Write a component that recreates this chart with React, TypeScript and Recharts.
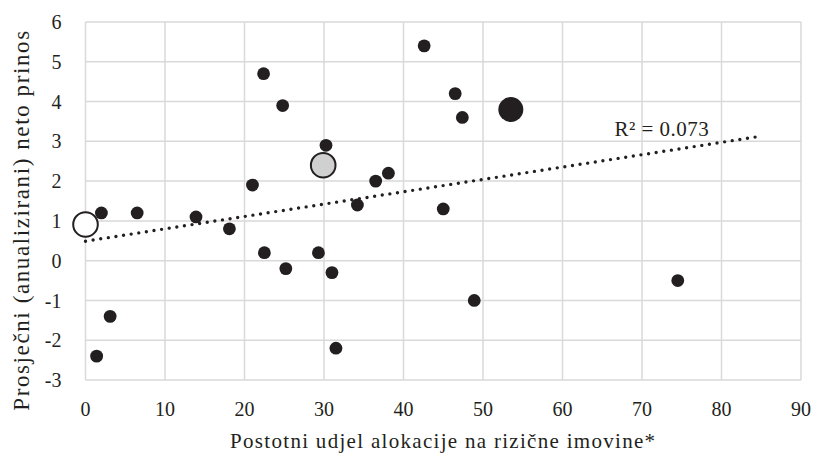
import {
  ScatterChart,
  Scatter,
  XAxis,
  YAxis,
  CartesianGrid,
  ReferenceDot,
  Label,
} from "recharts";

const xTicks = [0, 10, 20, 30, 40, 50, 60, 70, 80, 90];
const yTicks = [-3, -2, -1, 0, 1, 2, 3, 4, 5, 6];

// small black dots (individual funds)
const fundX = [1.4, 3.1, 2.0, 6.5, 13.9, 18.1, 22.5, 25.2, 22.4, 24.8, 21.0, 42.6, 46.5, 47.4, 30.25, 38.1, 36.5, 34.2, 45.0, 29.3, 31.0, 74.5, 48.9, 31.5];
const fundY = [-2.4, -1.4, 1.2, 1.2, 1.1, 0.8, 0.2, -0.2, 4.7, 3.9, 1.9, 5.4, 4.2, 3.6, 2.9, 2.2, 2.0, 1.4, 1.3, 0.2, -0.3, -0.5, -1.0, -2.2];

// highlighted big markers
const blackBigX = [53.5];
const blackBigY = [3.8];
const grayBigX = [29.9];
const grayBigY = [2.4];
const whiteBigX = [0];
const whiteBigY = [0.91];

// linear trend endpoints
const trendX = [0, 85];
const trendY = [0.49, 3.13];

const r2Label = "R² = 0.073";
const xTitle = "Postotni udjel alokacije na rizične imovine*";
const yTitle = "Prosječni (anualizirani) neto prinos";

const zip = (xs: number[], ys: number[]) => xs.map((x, i) => ({ x, y: ys[i] }));

const INK = "#231f20";
const GRID = "#d9d9d9";
const FONT = '"Liberation Serif", "Times New Roman", serif';

const dot = (r: number, fill: string, stroke?: string) => (props: any) => (
  <circle
    cx={props.cx}
    cy={props.cy}
    r={r}
    fill={fill}
    stroke={stroke ?? "none"}
    strokeWidth={stroke ? 2 : 0}
  />
);

export default function App() {
  return (
    <div style={{ position: "absolute", left: 0, top: 0, fontFamily: FONT }}>
      <ScatterChart width={815} height={462} margin={{ top: 22, right: 14, bottom: 0, left: 0 }}>
        <CartesianGrid stroke={GRID} strokeWidth={1.5} />
        <XAxis
          type="number"
          dataKey="x"
          domain={[0, 90]}
          ticks={xTicks}
          axisLine={false}
          tickLine={false}
          tickSize={0}
          tickMargin={22}
          height={82}
          tick={{ fill: INK, fontSize: 20, fontFamily: FONT }}
        >
          <Label
            content={({ viewBox }: any) => (
              <text
                x={viewBox.x + viewBox.width / 2}
                y={448}
                textAnchor="middle"
                fill={INK}
                fontSize={21}
                fontFamily={FONT}
                letterSpacing={1.3}
              >
                {xTitle}
              </text>
            )}
          />
        </XAxis>
        <YAxis
          type="number"
          dataKey="y"
          domain={[-3, 6]}
          ticks={yTicks}
          axisLine={false}
          tickLine={false}
          tickSize={0}
          tickMargin={24}
          width={85.5}
          tick={{ fill: INK, fontSize: 20, fontFamily: FONT }}
        >
          <Label
            content={() => {
              const cx = 21;
              const cy = 220;
              return (
                <text
                  x={cx}
                  y={cy}
                  transform={`rotate(-90 ${cx} ${cy})`}
                  textAnchor="middle"
                  dominantBaseline="central"
                  fill={INK}
                  fontSize={23}
                  fontFamily={FONT}
                  letterSpacing={1.6}
                >
                  {yTitle}
                </text>
              );
            }}
          />
        </YAxis>
        <Scatter
          data={zip(trendX, trendY)}
          isAnimationActive={false}
          line={{
            stroke: INK,
            strokeWidth: 3.4,
            strokeDasharray: "0 7.7",
            strokeLinecap: "round",
          }}
          shape={() => <g />}
        />
        <Scatter data={zip(fundX, fundY)} isAnimationActive={false} shape={dot(6.4, INK)} />
        <Scatter data={zip(blackBigX, blackBigY)} isAnimationActive={false} shape={dot(12.5, INK)} />
        <Scatter data={zip(grayBigX, grayBigY)} isAnimationActive={false} shape={dot(12.3, "#d0d0d0", INK)} />
        <Scatter data={zip(whiteBigX, whiteBigY)} isAnimationActive={false} shape={dot(12.3, "#ffffff", INK)} />
        <ReferenceDot
          x={72.5}
          y={3.32}
          r={0}
          fill="none"
          stroke="none"
          label={{ value: r2Label, position: "center", fill: INK, fontSize: 21, fontFamily: FONT, letterSpacing: 0.5 }}
        />
      </ScatterChart>
    </div>
  );
}
